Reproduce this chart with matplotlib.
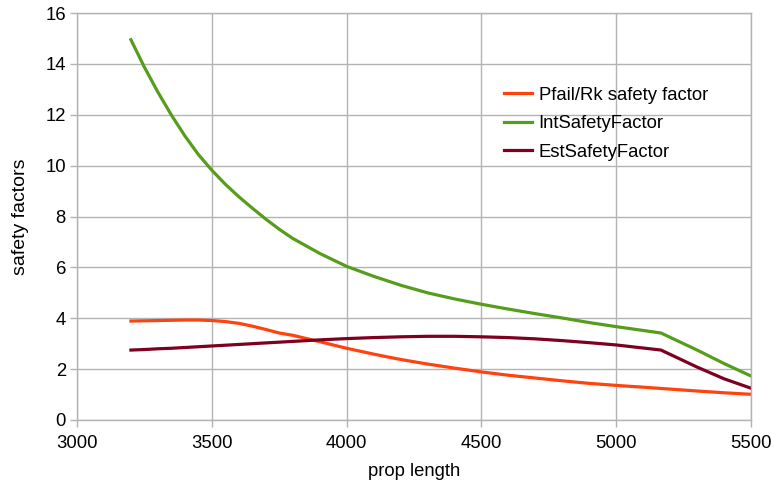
import matplotlib
matplotlib.use("Agg")
import matplotlib.pyplot as plt

prop_length = [3200, 3250, 3300, 3350, 3400, 3450, 3500, 3550, 3600, 3650, 3700, 3750, 3800,
               3900, 4000, 4100, 4200, 4300, 4400, 4500, 4600, 4700, 4800, 4900, 5000,
               5100, 5166, 5300, 5400, 5500]
pfail_rk = [3.89, 3.90, 3.91, 3.92, 3.93, 3.93, 3.91, 3.87, 3.80, 3.69, 3.56, 3.42, 3.33,
            3.08, 2.82, 2.59, 2.38, 2.20, 2.04, 1.89, 1.76, 1.65, 1.54, 1.44, 1.36,
            1.29, 1.24, 1.14, 1.07, 1.01]
int_sf = [14.95, 13.87, 12.89, 11.99, 11.17, 10.44, 9.82, 9.27, 8.78, 8.33, 7.90, 7.50, 7.14,
          6.55, 6.04, 5.65, 5.30, 5.00, 4.76, 4.55, 4.36, 4.18, 4.01, 3.83, 3.67,
          3.52, 3.42, 2.75, 2.22, 1.73]
est_sf = [2.75, 2.77, 2.80, 2.82, 2.85, 2.88, 2.91, 2.94, 2.97, 3.00, 3.03, 3.06, 3.09,
          3.15, 3.20, 3.24, 3.27, 3.29, 3.29, 3.27, 3.24, 3.19, 3.12, 3.04, 2.95,
          2.83, 2.75, 2.08, 1.62, 1.25]

series_names = ["Pfail/Rk safety factor", "IntSafetyFactor", "EstSafetyFactor"]
x_ticks = [3000, 3500, 4000, 4500, 5000, 5500]
y_ticks = [0, 2, 4, 6, 8, 10, 12, 14, 16]

plt.rcParams['font.family'] = ['Liberation Sans', 'DejaVu Sans']

fig = plt.figure(figsize=(7.74, 4.84), dpi=100)
ax = fig.add_axes([77/774, 1-420/484, (751-77)/774, (420-13)/484])

grid_c = "#b3b3b3"
fs = 13.3
ax.plot(prop_length, pfail_rk, color="#ff420e", lw=2.3, label=series_names[0])
ax.plot(prop_length, int_sf, color="#579d1c", lw=2.3, label=series_names[1])
ax.plot(prop_length, est_sf, color="#7e0021", lw=2.3, label=series_names[2])

ax.set_xlim(3000, 5500)
ax.set_ylim(0, 16)
ax.set_xticks(x_ticks)
ax.set_yticks(y_ticks)
ax.grid(True, color=grid_c, lw=1)
ax.set_axisbelow(True)
for s in ax.spines.values():
    s.set_color(grid_c)
    s.set_linewidth(1)
ax.tick_params(axis='both', colors=grid_c, length=5, width=1, labelsize=fs,
               labelcolor='black', direction='out')
ax.tick_params(axis='x', pad=6)
ax.tick_params(axis='y', pad=3)

ax.set_xlabel("prop length", fontsize=fs, labelpad=8)
ax.set_ylabel("safety factors", fontsize=fs + 0.7, labelpad=12)

ax.legend(loc='upper left', bbox_to_anchor=((487-77)/674, (420-70)/407),
          frameon=False, fontsize=fs, handlelength=1.55, handletextpad=0.35,
          labelspacing=0.62)

fig.savefig("out.png", dpi=100)
